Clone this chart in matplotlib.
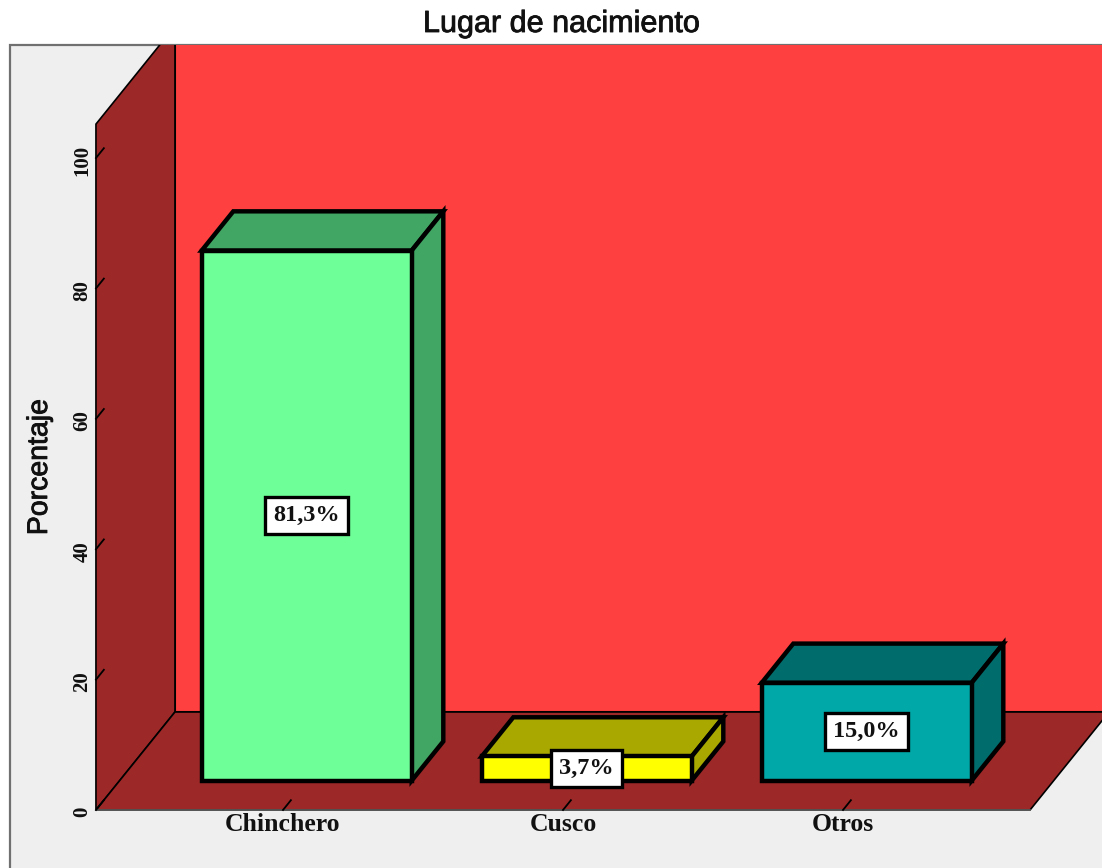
import matplotlib
matplotlib.use("Agg")
import matplotlib.pyplot as plt
import matplotlib.patheffects as pe
from matplotlib.patches import Polygon, Rectangle

categories = ["Chinchero", "Cusco", "Otros"]
percentages = [81.3, 3.7, 15.0]
y_ticks = [0, 20, 40, 60, 80, 100]

front_colors = ["#6eff98", "#ffff00", "#00a8a8"]
side_colors = ["#41a564", "#a8a800", "#006c6c"]

W, H = 1102, 868
CAT_PX = 280.0   # pixels per category
VAL_PX = 6.52    # pixels per percent
X0_PX, Y0_PX = 283, 810

# depth of the floor, in data units
DX = 79 / CAT_PX
DY = 98 / VAL_PX
X_MIN, X_MAX = -0.668, 2.668
Y_TOP = 105.2
BAR_W = 0.75


def pt(x, v, d=0.0):
    # point on the plane at depth d (0 = front, 1 = back wall)
    return (x + d * DX, v + d * DY)


def main():
    fig = plt.figure(figsize=(W / 100, H / 100), dpi=100, facecolor="white")
    ax = fig.add_axes([0, 0, 1, 1])
    ax.set_xlim(-X0_PX / CAT_PX, (W - X0_PX) / CAT_PX)
    ax.set_ylim((Y0_PX - H) / VAL_PX, Y0_PX / VAL_PX)
    ax.axis("off")

    # outer frame
    fx0 = (9.5 - X0_PX) / CAT_PX
    fy1 = (Y0_PX - 45) / VAL_PX
    frame = Rectangle((fx0, -20), 6, fy1 + 20, facecolor="#efefef",
                      edgecolor="#707070", linewidth=1.6, zorder=1)
    ax.add_patch(frame)
    clip = Rectangle((fx0, -20), 6, fy1 + 20, transform=ax.transData)

    # back wall, left wall, floor
    back = Polygon([pt(X_MIN, 0, 1), pt(X_MAX + 1, 0, 1), pt(X_MAX + 1, Y_TOP, 1), pt(X_MIN, Y_TOP, 1)],
                   facecolor="#ff4040", edgecolor="black", linewidth=1.5, zorder=2)
    left = Polygon([pt(X_MIN, 0), pt(X_MIN, Y_TOP), pt(X_MIN, Y_TOP, 1), pt(X_MIN, 0, 1)],
                   facecolor="#9c2828", edgecolor="black", linewidth=1.2, zorder=3)
    floor = Polygon([pt(X_MIN, 0), pt(X_MAX, 0), pt(X_MAX, 0, 1), pt(X_MIN, 0, 1)],
                    facecolor="#9c2828", edgecolor="black", linewidth=1.2, zorder=3)
    for p in (back, left, floor):
        ax.add_patch(p)
        p.set_clip_path(clip)
    ax.plot([X_MIN, X_MAX], [0, 0], color="#606060", lw=1.2, zorder=4)

    # y ticks
    for t in y_ticks:
        ax.plot(*zip(pt(X_MIN, t), pt(X_MIN, t, 0.1)), color="black", lw=1.3, zorder=4)
        ax.text(X_MIN - 13.5 / CAT_PX, t - 0.3, str(t), rotation=90, ha="center", va="center",
                family="Liberation Serif", fontweight="bold", fontsize=15, color="#111111")

    # category ticks
    for i, c in enumerate(categories):
        ax.plot(*zip(pt(i, 0), pt(i, 0, 0.1)), color="black", lw=1.3, zorder=4)
        ax.text(i, -2.15, c, ha="center", va="center",
                family="Liberation Serif", fontweight="bold", fontsize=18.5, color="#111111")

    # bars
    for i, v in enumerate(percentages):
        x0 = i - BAR_W / 2 + 0.3 * DX
        x1 = x0 + BAR_W
        y0 = 0.3 * DY
        d = 0.4
        top = Polygon([(x0, y0 + v), (x1, y0 + v), pt(x1, y0 + v, d), pt(x0, y0 + v, d)],
                      facecolor=side_colors[i], edgecolor="black", linewidth=3.2, joinstyle="miter", zorder=5)
        side = Polygon([(x1, y0), (x1, y0 + v), pt(x1, y0 + v, d), pt(x1, y0, d)],
                       facecolor=side_colors[i], edgecolor="black", linewidth=3.2, joinstyle="miter", zorder=5)
        front = Polygon([(x0, y0), (x1, y0), (x1, y0 + v), (x0, y0 + v)],
                        facecolor=front_colors[i], edgecolor="black", linewidth=3.2, joinstyle="miter", zorder=6)
        ax.add_patch(top)
        ax.add_patch(side)
        ax.add_patch(front)
        ax.text((x0 + x1) / 2, y0 + v / 2, f"{v:.1f}%".replace(".", ","), ha="center", va="center",
                family="Liberation Serif", fontweight="bold", fontsize=17.5, color="#111111", zorder=8,
                bbox=dict(boxstyle="square,pad=0.33", facecolor="white", edgecolor="black", linewidth=2.4))

    # titles, regular weight thickened a little
    thick = [pe.withStroke(linewidth=0.6, foreground="#111111")]
    ax.text(561 / W, 1 - 24 / H, "Lugar de nacimiento", transform=ax.transAxes, ha="center", va="center",
            family="Liberation Sans", fontsize=22, color="#111111", path_effects=thick)
    ax.text(40 / W, 1 - 467 / H, "Porcentaje", transform=ax.transAxes, rotation=90, ha="center", va="center",
            family="Liberation Sans", fontsize=20.5, color="#111111", path_effects=thick)

    fig.savefig("out.png", dpi=100)


if __name__ == "__main__":
    main()
